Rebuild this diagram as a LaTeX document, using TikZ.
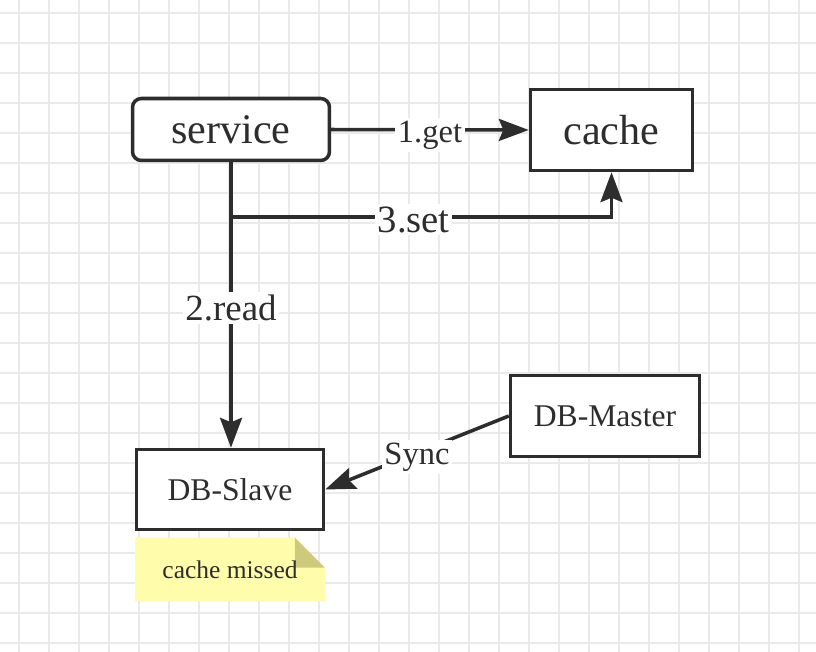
\documentclass[tikz,border=0pt]{standalone}
\usepackage{fontspec}
\setmainfont{Liberation Serif}
\usepackage{xcolor}
\usetikzlibrary{arrows.meta,positioning}

\definecolor{ink}{RGB}{45,45,45}
\definecolor{gridgray}{RGB}{234,234,234}
\definecolor{notefill}{RGB}{255,252,172}
\definecolor{notefold}{RGB}{206,202,124}

\begin{document}
\begin{tikzpicture}[
  x=0.02cm, y=-0.02cm,
  every node/.style={text=ink},
  gridline/.style={draw=gridgray, line width=1pt},
  box/.style={draw=ink, line width=2pt, fill=white, align=center},
  lbl/.style={fill=white, inner sep=1.5pt},
  flow/.style={draw=ink, line width=2pt,
    -{Stealth[length=17pt, width=12.5pt, inset=2.5pt]}},
]
\useasboundingbox (0,0) rectangle (816,652);
\fill[white] (0,0) rectangle (816,652);

% background grid
\foreach \gx in {19,49,...,799} \draw[gridline] (\gx,0) -- (\gx,652);
\foreach \gy in {13,43,...,643} \draw[gridline] (0,\gy) -- (816,\gy);

\node[box, rounded corners=5pt, minimum width=3.94cm, minimum height=1.24cm,
      font=\fontsize{24}{28}\selectfont] (service) at (231,129.5) {service};
\node[box, minimum width=3.24cm, minimum height=1.62cm,
      font=\fontsize{24}{28}\selectfont] (cache) at (611.5,130) {cache};
\node[box, minimum width=3.74cm, minimum height=1.6cm,
      font=\fontsize{18}{22}\selectfont] (slave) at (230,489.5) {DB-Slave};
\node[box, minimum width=3.78cm, minimum height=1.62cm,
      font=\fontsize{18}{22}\selectfont] (master) at (605,416) {DB-Master};
\node[minimum width=3.78cm, minimum height=1.26cm, inner sep=0pt,
      below=0.13cm of slave, font=\fontsize{14.5}{17}\selectfont] (note) {};

% note with folded corner
\fill[notefill] (note.south west) -- (note.north west)
  -- ([xshift=-0.6cm]note.north east) -- ([yshift=-0.6cm]note.north east)
  -- (note.south east) -- cycle;
\fill[notefold] ([xshift=-0.6cm]note.north east)
  -- ([xshift=-0.6cm,yshift=-0.6cm]note.north east)
  -- ([yshift=-0.6cm]note.north east) -- cycle;
\node[font=\fontsize{14.5}{17}\selectfont] (notetext) at (note.center) {cache missed};

\coordinate (fork) at (231,217);

\draw[flow] (service.east) -- node[lbl, yshift=-0.11cm, font=\fontsize{18.5}{22}\selectfont] {1.get} (cache.west);
\draw[flow] (service.south) -- node[lbl, yshift=-0.06cm, font=\fontsize{21}{25}\selectfont] {2.read}
  (service.south |- slave.north);
\draw[flow] (fork) -| node[lbl, pos=0.24, yshift=-0.05cm, font=\fontsize{22}{26}\selectfont] {3.set} (cache.south);
\draw[flow] (master.west) -- node[lbl, yshift=-0.08cm, font=\fontsize{18.5}{22}\selectfont] {Sync} (slave.east);
\end{tikzpicture}
\end{document}
